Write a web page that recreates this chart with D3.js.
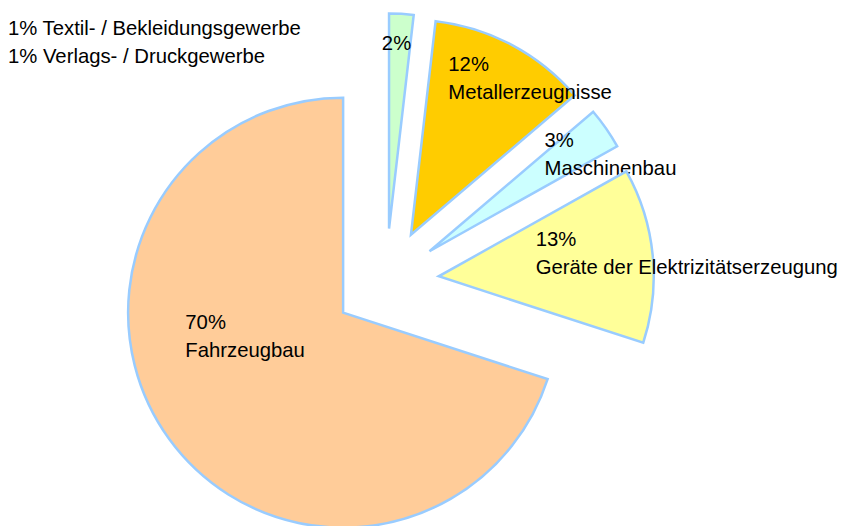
<!DOCTYPE html>
<html><head><meta charset="utf-8">
<script src="https://cdn.jsdelivr.net/npm/d3@7"></script>
<style>html,body{margin:0;padding:0;background:#fff;overflow:hidden}</style>
</head><body><div id="chart"></div>
<script>
// ---- data ----
const categories = ["", "Metallerzeugnisse", "Maschinenbau", "Geräte der Elektrizitätserzeugung", "Fahrzeugbau"];
const shareValues = [1.83, 11.94, 3.11, 13.12, 70.0];
const percentLabels = ["2%", "12%", "3%", "13%", "70%"];
const minorCategories = ["Textil- / Bekleidungsgewerbe", "Verlags- / Druckgewerbe"];
const minorLabels = ["1%", "1%"];

// ---- styles / layout ----
const W = 842, H = 526;
const sliceColors = ["#CCFFCC", "#FFCC00", "#CCFFFF", "#FFFF99", "#FFCC99"];
const strokeColor = "#99CCFF";
const center = {x: 386, y: 281.5};
const radius = 215;
const explode = 53;
// label anchor (first line baseline-left) in polar coords around each exploded slice origin: [deg, fraction of radius]
const labelPolar = [[-2.3, 0.833], [12.9, 0.779], [47.8, 0.722], [72.8, 0.472], [264, 0.738]];
const lineHeight = 28;
const fontFamily = "'Liberation Sans', Arial, Helvetica, sans-serif";
const fontSize = 20.3;

const svg = d3.select("#chart").append("svg").attr("width", W).attr("height", H);

const pie = d3.pie().sort(null).value(d => d.value).startAngle(0).endAngle(2 * Math.PI);
const data = categories.map((c, i) => ({name: c, value: shareValues[i], label: percentLabels[i], color: sliceColors[i], lp: labelPolar[i]}));
const arcs = pie(data);
const arc = d3.arc().innerRadius(0).outerRadius(radius);

const g = svg.append("g").attr("transform", `translate(${center.x},${center.y})`);

const slices = g.selectAll("g.slice").data(arcs).join("g").attr("class", "slice")
  .attr("transform", d => {
    const mid = (d.startAngle + d.endAngle) / 2;
    return `translate(${explode * Math.sin(mid)},${-explode * Math.cos(mid)})`;
  });

slices.append("path")
  .attr("d", arc)
  .attr("fill", d => d.data.color)
  .attr("stroke", strokeColor)
  .attr("stroke-width", 2.5)
  .attr("stroke-linejoin", "miter");

const labels = slices.append("text")
  .attr("font-family", fontFamily)
  .attr("font-size", fontSize)
  .attr("fill", "#000")
  .attr("transform", d => {
    const a = d.data.lp[0] * Math.PI / 180, rr = d.data.lp[1] * radius;
    return `translate(${rr * Math.sin(a)},${-rr * Math.cos(a)})`;
  });
labels.append("tspan").attr("x", 0).attr("y", 0).text(d => d.data.label);
labels.filter(d => d.data.name !== "").append("tspan").attr("x", 0).attr("y", lineHeight).text(d => d.data.name);

// minor categories listed at top left
svg.append("g").selectAll("text").data(minorCategories).join("text")
  .attr("x", 8)
  .attr("y", (d, i) => 35 + i * lineHeight)
  .attr("font-family", fontFamily)
  .attr("font-size", fontSize)
  .attr("fill", "#000")
  .text((d, i) => `${minorLabels[i]} ${d}`);
</script>
</body></html>
